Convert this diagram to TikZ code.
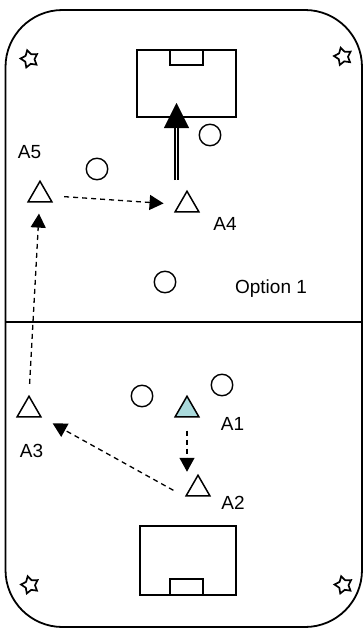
\documentclass[tikz,border=0pt]{standalone}
\usepackage{fontspec}
\setmainfont{Liberation Sans}
\usepackage{tikz}
\usetikzlibrary{arrows.meta,shapes.geometric}
\definecolor{mint}{RGB}{170,218,220}

\tikzset{
  player/.style={draw,regular polygon,regular polygon sides=3,minimum size=27.5pt,inner sep=0pt,line width=1.5pt},
  cone/.style={draw,circle,minimum size=21.5pt,inner sep=0pt,line width=1.4pt},
  flag/.style={draw,star,star points=5,star point ratio=1.8,minimum size=18pt,inner sep=0pt,line width=1.7pt,rotate=15},
  lbl/.style={anchor=base,inner sep=0pt,font=\fontsize{19}{21}\selectfont},
  pass/.style={line width=1.3pt,dash pattern=on 5pt off 4pt,-{Triangle[length=14pt,width=15pt]}},
  shaft/.style={double,double distance=1.6pt,line width=1.6pt},
  shot/.style={-{Triangle[length=25pt,width=25pt]}}
}

\begin{document}
\begin{tikzpicture}[x=1pt,y=-1pt]
\useasboundingbox (0,0) rectangle (364,629);
% field
\draw[line width=1.8pt,rounded corners=57pt] (5.5,10) rectangle (362,627);
\draw[line width=1.7pt] (5.5,322) -- (362,322);
% goals
\node[draw,line width=1.7pt,minimum width=99pt,minimum height=67pt,inner sep=0pt] (topgoal) at (186.5,83.5) {};
\node[draw,line width=1.7pt,minimum width=33pt,minimum height=15pt,inner sep=0pt] (topbox) at (186.5,57.5) {};
\node[draw,line width=1.7pt,minimum width=96pt,minimum height=69pt,inner sep=0pt] (botgoal) at (188,560.5) {};
\node[draw,line width=1.7pt,minimum width=33pt,minimum height=16pt,inner sep=0pt] (botbox) at (186.5,587) {};
% corner flags
\node[flag] (f1) at (29.5,59) {};
\node[flag] (f2) at (343,56.5) {};
\node[flag] (f3) at (30,585) {};
\node[flag] (f4) at (343.5,585) {};
% cones
\node[cone] (c1) at (210,135) {};
\node[cone] (c2) at (97,169) {};
\node[cone] (c3) at (165,282) {};
\node[cone] (c4) at (142,396) {};
\node[cone] (c5) at (222,385) {};
% players
\node[player] (a5) at (40,195) {};
\node[player] (a4) at (187,205) {};
\node[player] (a3) at (29,410) {};
\node[player,fill=mint] (a1) at (187,410) {};
\node[player] (a2) at (198,489) {};
\node[lbl] (l5) at (29.5,158) {A5};
\node[lbl] (l4) at (225,230) {A4};
\node[lbl] (l3) at (31.5,457) {A3};
\node[lbl] (l1) at (232.5,430) {A1};
\node[lbl] (l2) at (233,509) {A2};
\node[lbl] (opt) at (271,293) {Option 1};
% passes
\draw[pass,shorten <=13pt,shorten >=2pt] (a1) -- (a1 |- a2.corner 1);
\draw[pass,shorten <=13pt,shorten >=12pt] (a2.corner 2) -- (a3.corner 3);
\draw[pass,shorten <=11pt,shorten >=11pt] (a3.corner 1) -- (a5);
\draw[pass,shorten <=15pt,shorten >=15pt] (a5) -- (a4);
% shot
\coordinate (kick) at (176.5,180);
\draw[shot,shorten >=19.5pt] (kick) -- (kick |- topgoal.center);
\draw[shaft,shorten >=44pt] (kick) -- (kick |- topgoal.center);
\end{tikzpicture}
\end{document}
